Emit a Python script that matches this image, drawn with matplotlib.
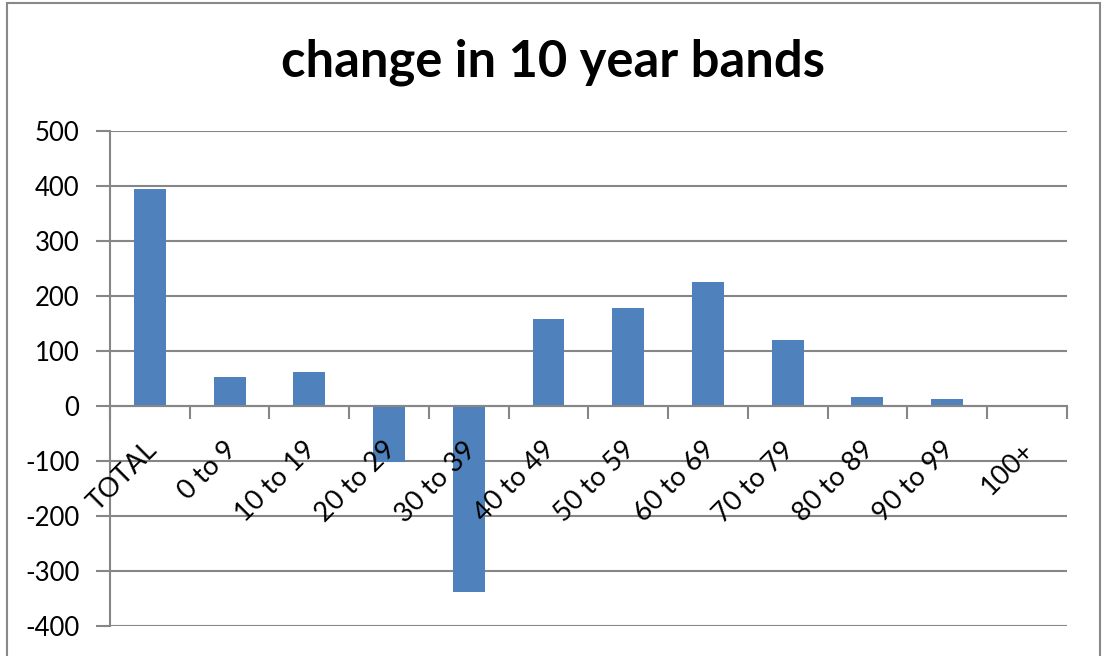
import matplotlib.pyplot as plt
import matplotlib.patches as patches
import numpy as np

bands = ["TOTAL", "0 to 9", "10 to 19", "20 to 29", "30 to 39", "40 to 49",
         "50 to 59", "60 to 69", "70 to 79", "80 to 89", "90 to 99", "100+"]
change = [394, 52, 61, -101, -338, 158, 179, 225, 120, 17, 12, 0]
yticks = [-400, -300, -200, -100, 0, 100, 200, 300, 400, 500]

plt.rcParams['font.family'] = ['Lato', 'DejaVu Sans']

fig = plt.figure(figsize=(11.02, 6.56), dpi=100)
ax = fig.add_axes([0.0998, 0.0457, 0.968 - 0.0998, 0.8003 - 0.0457])

x = np.arange(len(bands))
ax.bar(x, change, width=0.4, color='#4F81BD', zorder=3)

ax.set_xlim(-0.5, len(bands) - 0.5)
ax.set_ylim(-400, 500)
ax.set_yticks(yticks)
ax.set_yticklabels([str(v) for v in yticks], fontsize=18.5)
ax.grid(axis='y', color='#868686', linewidth=1.5, zorder=0)
ax.tick_params(axis='y', length=10, width=1.5, color='#868686', pad=12)

# category axis sits on the zero line
ax.spines['bottom'].set_position(('data', 0))
ax.spines['bottom'].set_color('#868686')
ax.spines['bottom'].set_linewidth(1.5)
ax.spines['bottom'].set_zorder(4)
ax.spines['left'].set_color('#868686')
ax.spines['left'].set_linewidth(1.5)
ax.spines['top'].set_visible(False)
ax.spines['right'].set_visible(False)
ax.set_xticks(np.arange(len(bands) + 1) - 0.5)
ax.set_xticklabels([])
ax.tick_params(axis='x', length=9, width=1.5, color='#868686', direction='out')

for i, lab in enumerate(bands):
    ax.annotate(lab, (i, 0), xytext=(-6, -31), textcoords='offset pixels',
                rotation=45, rotation_mode='anchor', ha='right', va='top',
                fontsize=19.5, zorder=5)

fig.text(0.502, 0.905, "change in 10 year bands", ha='center', va='center',
         fontsize=36.5, fontweight='bold')

# chart border
fig.patches.append(patches.Rectangle((0.006, -0.01), 0.992, 1.0054, transform=fig.transFigure,
                                     fill=False, edgecolor='#888888', linewidth=1.5))

fig.savefig("out.png", dpi=100)
